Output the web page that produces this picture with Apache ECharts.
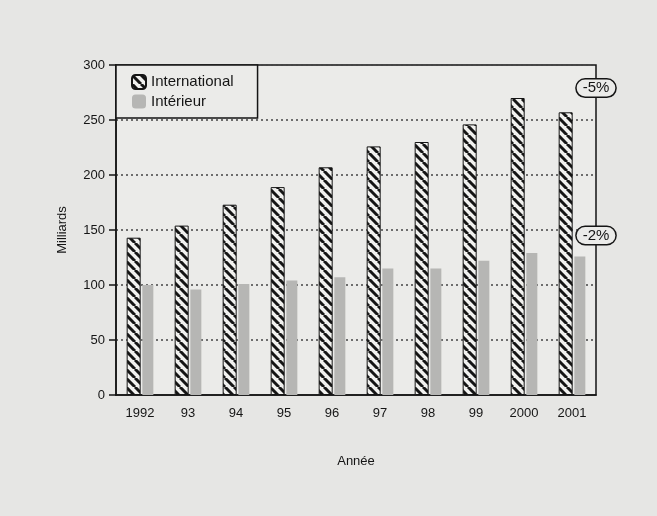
<!DOCTYPE html>
<html><head><meta charset="utf-8">
<script src="https://cdn.jsdelivr.net/npm/echarts@6/dist/echarts.min.js"></script>
<style>html,body{margin:0;padding:0;background:#e6e6e4;}#c{width:657px;height:516px;}</style>
</head><body><div id="c"></div>
<script>
const categories = ['1992','93','94','95','96','97','98','99','2000','2001'];
const international = [143,154,173,189,207,226,230,246,270,257];
const interieur = [100,96,101,104,107,115,115,122,129,126];
const yTicks = [0,50,100,150,200,250,300];
const annotations = [{text:'-5%', value:279},{text:'-2%', value:145}];

const FONT = '"Liberation Sans Narrow","Liberation Sans",Arial,sans-serif';
function hatch(){
  const n = 9;
  const c = document.createElement('canvas');
  c.width = n; c.height = n;
  const g = c.getContext('2d');
  g.fillStyle = '#f1f1ef'; g.fillRect(0,0,n,n);
  g.strokeStyle = '#151515'; g.lineWidth = 3;
  for (let k=-1;k<=1;k++){ g.beginPath(); g.moveTo(k*n,0); g.lineTo(k*n+n,n); g.stroke(); }
  return c;
}
const pat = {image: hatch(), repeat:'repeat'};
const chart = echarts.init(document.getElementById('c'));
const grid = {left:116, right:61, top:65, bottom:121};
chart.setOption({
  backgroundColor:'#e6e6e4',
  animation:false,
  textStyle:{fontFamily:FONT},
  grid:{...grid, show:true, borderColor:'#151515', borderWidth:1.5, backgroundColor:'#ebebe9'},
  legend:{
    orient:'vertical', left:116, top:65, itemWidth:14, itemHeight:14, itemGap:4,
    padding:[9,24,9,15], borderColor:'#151515', borderWidth:1.5, backgroundColor:'#ebebe9',
    textStyle:{fontSize:15, color:'#151515', fontFamily:FONT},
    data:['International','Intérieur']
  },
  xAxis:[{
    type:'category', data:categories, boundaryGap:true,
    name:'Année', nameLocation:'middle', nameGap:60,
    nameTextStyle:{fontSize:13, color:'#151515'},
    axisLine:{lineStyle:{color:'#151515', width:1.5}},
    axisTick:{alignWithLabel:true, length:7, lineStyle:{color:'#151515', width:1.5}},
    axisLabel:{fontSize:13, color:'#151515', margin:12}
  },{
    type:'category', data:categories, boundaryGap:true, position:'bottom',
    axisLine:{show:false}, axisLabel:{show:false},
    axisTick:{length:2, lineStyle:{color:'#151515', width:2}}
  }],
  yAxis:{
    type:'value', min:0, max:300, interval:50,
    name:'Milliards', nameLocation:'middle', nameGap:47, nameRotate:90,
    nameTextStyle:{fontSize:13, color:'#151515'},
    axisLine:{show:true, lineStyle:{color:'#151515', width:1.5}},
    axisTick:{show:true, length:7, lineStyle:{color:'#151515', width:1.5}},
    axisLabel:{fontSize:13, color:'#151515', margin:11, formatter:v=>yTicks.includes(v)?String(v):''},
    splitLine:{show:true, lineStyle:{color:'#444', type:[2,3], width:1.5}}
  },
  series:[
    {name:'International', type:'bar', data:international, barWidth:14, barGap:'12%',
     itemStyle:{color:pat, borderColor:'#151515', borderWidth:1}},
    {name:'Intérieur', type:'bar', data:interieur, barWidth:11,
     itemStyle:{color:'#b6b6b4'}}
  ]
});
const xRight = 657 - grid.right;
chart.setOption({graphic: annotations.map(a=>({
  type:'text', z:100,
  x: xRight, y: chart.convertToPixel({yAxisIndex:0}, a.value),
  style:{text:a.text, align:'center', verticalAlign:'middle', fontSize:15, fontFamily:FONT, fill:'#151515',
    backgroundColor:'#ebebe9', borderColor:'#151515', borderWidth:1.5, borderRadius:10, padding:[1,6,1,6]}
}))});
</script></body></html>
